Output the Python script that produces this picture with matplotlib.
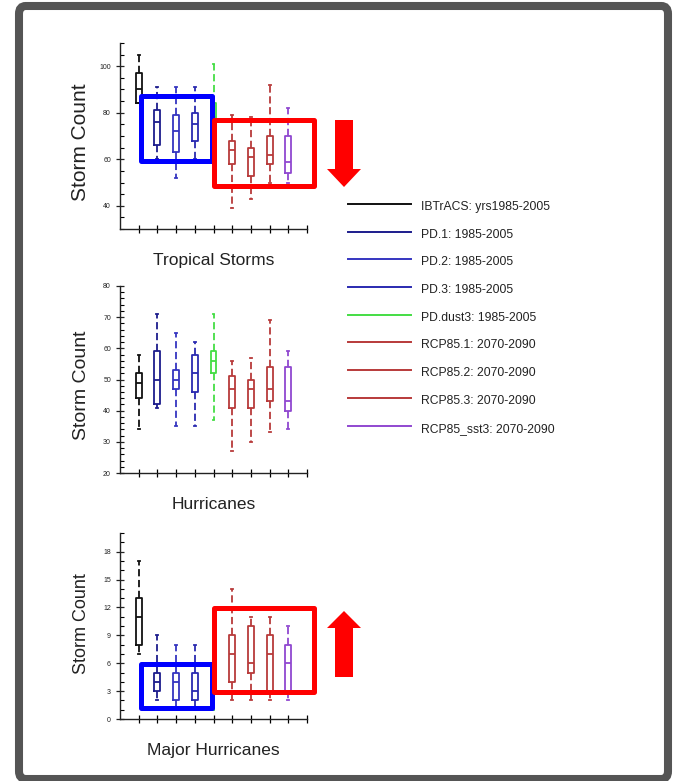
import numpy as np
import matplotlib.pyplot as plt
from matplotlib.patches import FancyBboxPatch, Polygon, Rectangle
from matplotlib.ticker import MultipleLocator

plt.rcParams['font.family'] = ['Liberation Sans', 'DejaVu Sans']

# Experiments (legend order)
labels = ['IBTrACS: yrs1985-2005', 'PD.1: 1985-2005', 'PD.2: 1985-2005', 'PD.3: 1985-2005',
          'PD.dust3: 1985-2005', 'RCP85.1: 2070-2090', 'RCP85.2: 2070-2090',
          'RCP85.3: 2070-2090', 'RCP85_sst3: 2070-2090']
colors = ['#111111', '#1c1c8c', '#3535c0', '#2a2ab0', '#44dd44',
          '#b83a3a', '#b83a3a', '#b83a3a', '#9048d0']

# box stats: whisker low, q1, median, q3, whisker high
ts_lo  = [84, 60, 52, 60, 62, 39, 43, 50, 50]
ts_q1  = [84, 66, 63, 68, 72, 58, 53, 58, 54]
ts_med = [90, 76, 72, 75, 78, 64, 61, 62, 59]
ts_q3  = [97, 81, 79, 80, 84, 68, 65, 70, 70]
ts_hi  = [105, 91, 91, 91, 101, 79, 78, 92, 82]

hu_lo  = [34, 41, 35, 35, 37, 27, 30, 33, 34]
hu_q1  = [44, 42, 47, 46, 52, 41, 41, 43, 40]
hu_med = [49, 50, 50, 52, 56, 47, 47, 47, 43]
hu_q3  = [52, 59, 53, 58, 59, 51, 50, 54, 54]
hu_hi  = [58, 71, 65, 62, 71, 56, 57, 69, 59]

mh_lo  = [7, 2, 1, 1, 1, 2, 2, 2, 2]
mh_q1  = [8, 3, 2, 2, 3, 4, 5, 3, 3]
mh_med = [11, 4, 4, 3, 4, 7, 6, 7, 6]
mh_q3  = [13, 5, 5, 5, 6, 9, 10, 9, 8]
mh_hi  = [17, 9, 8, 8, 8, 14, 11, 11, 10]

W, H = 673, 781
fig = plt.figure(figsize=(W / 100, H / 100), dpi=100)


def fx(px):
    return px / W


def fy(py):
    return 1 - py / H


def panel(top, bottom, lo, q1, med, q3, hi, ylim, major, minor, title, ylab_y, ylab_size):
    ax = fig.add_axes([fx(120), fy(bottom), fx(307) - fx(120), fy(top) - fy(bottom)])
    stats = [dict(whislo=a, q1=b, med=c, q3=d, whishi=e) for a, b, c, d, e in zip(lo, q1, med, q3, hi)]
    pos = np.arange(1, len(stats) + 1)
    arts = ax.bxp(stats, positions=pos, widths=0.32, capwidths=0.1, showfliers=False, patch_artist=False)
    for i, c in enumerate(colors):
        arts['boxes'][i].set(color=c, linewidth=1.3)
        arts['medians'][i].set(color=c, linewidth=1.3)
        for w in arts['whiskers'][2 * i:2 * i + 2]:
            w.set(color=c, linewidth=1.3, linestyle=(0, (4, 2)))
        for cp in arts['caps'][2 * i:2 * i + 2]:
            cp.set(color=c, linewidth=1.3)
    ax.set_xlim(0, 10)
    ax.set_ylim(*ylim)
    ax.set_xticks(np.arange(1, 11))
    ax.set_xticklabels([])
    ax.yaxis.set_major_locator(MultipleLocator(major))
    ax.yaxis.set_minor_locator(MultipleLocator(minor))
    ax.tick_params(axis='y', which='major', direction='inout', length=6, width=0.9, labelsize=5, colors='#222222')
    ax.tick_params(axis='y', which='minor', direction='in', length=3, width=0.8)
    ax.tick_params(axis='x', which='major', direction='inout', length=6, width=0.9)
    for s in ['top', 'right']:
        ax.spines[s].set_visible(False)
    for s in ['left', 'bottom']:
        ax.spines[s].set_linewidth(1.0)
        ax.spines[s].set_color('#222222')
    fig.text(fx(81), fy(ylab_y), 'Storm Count', rotation=90, fontsize=ylab_size,
             ha='center', va='center', color='#222222')
    ax.set_xlabel(title, fontsize=12.5, labelpad=11, color='#222222')
    return ax


ax1 = panel(43, 229, ts_lo, ts_q1, ts_med, ts_q3, ts_hi, (30, 110), 20, 5, 'Tropical Storms', 142, 15)
ax2 = panel(286, 473, hu_lo, hu_q1, hu_med, hu_q3, hu_hi, (20, 80), 10, 2, 'Hurricanes', 385, 14)
ax3 = panel(533, 719, mh_lo, mh_q1, mh_med, mh_q3, mh_hi, (0, 20), 3, 1, 'Major Hurricanes', 624, 13)

# legend drawn by hand
for i, (lab, c) in enumerate(zip(labels, colors)):
    yl = 204 + i * 27.7
    fig.add_artist(plt.Line2D([fx(348), fx(411)], [fy(yl), fy(yl)], color=c, linewidth=1.4))
    fig.text(fx(421), fy(yl + 3), lab, fontsize=8.7, va='center', ha='left', color='#222222')

# highlight boxes
def hl(ax, x0, x1, y0, y1, c):
    ax.add_patch(Rectangle((x0, y0), x1 - x0, y1 - y0, fill=False, edgecolor=c,
                           linewidth=3.6, joinstyle='round', clip_on=False, zorder=5))

hl(ax1, 1.1, 4.9, 59.4, 87.4, '#0000ff')
hl(ax1, 5.0, 10.4, 48.7, 76.8, '#ff0000')
hl(ax3, 1.1, 4.9, 1.2, 5.9, '#0000ff')
hl(ax3, 5.0, 10.4, 2.9, 11.9, '#ff0000')

# arrows
down = [(335, 120), (353, 120), (353, 169), (361, 169), (344, 187), (327, 169), (335, 169)]
up = [(335, 677), (353, 677), (353, 628), (361, 628), (344, 611), (327, 628), (335, 628)]
for pts in (down, up):
    fig.add_artist(Polygon([(fx(a), fy(b)) for a, b in pts], closed=True,
                           facecolor='#ff0000', edgecolor='none'))

# outer frame
fig.add_artist(FancyBboxPatch((fx(19), fy(779)), fx(668) - fx(19), fy(6) - fy(779),
                              boxstyle='round,pad=0,rounding_size=0.01',
                              transform=fig.transFigure, fill=False,
                              edgecolor='#555555', linewidth=5.8))

fig.savefig('out.png', dpi=100)
